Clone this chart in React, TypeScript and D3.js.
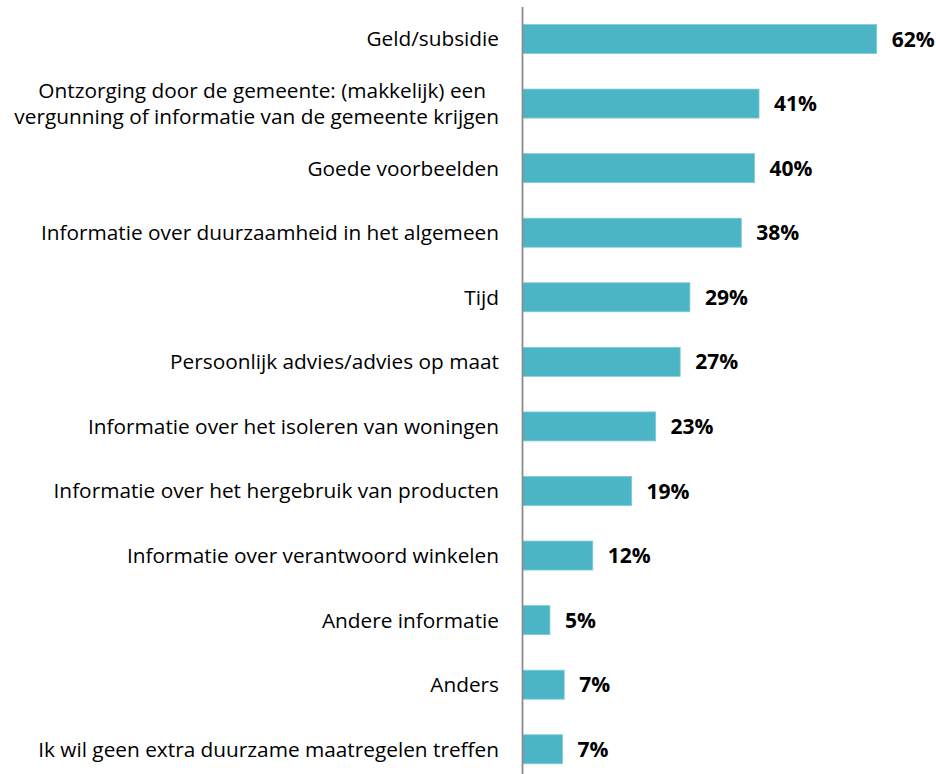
import React from "react";
import * as d3 from "d3";

const categories: string[][] = [
  ["Geld/subsidie"],
  ["Ontzorging door de gemeente: (makkelijk) een", "vergunning of informatie van de gemeente krijgen"],
  ["Goede voorbeelden"],
  ["Informatie over duurzaamheid in het algemeen"],
  ["Tijd"],
  ["Persoonlijk advies/advies op maat"],
  ["Informatie over het isoleren van woningen"],
  ["Informatie over het hergebruik van producten"],
  ["Informatie over verantwoord winkelen"],
  ["Andere informatie"],
  ["Anders"],
  ["Ik wil geen extra duurzame maatregelen treffen"],
];
const values: number[] = [62.0, 41.4, 40.6, 38.3, 29.3, 27.6, 23.3, 19.1, 12.3, 4.8, 7.3, 7.0];
const valueLabels: string[] = ["62%", "41%", "40%", "38%", "29%", "27%", "23%", "19%", "12%", "5%", "7%", "7%"];

const W = 936;
const H = 774;
const FONT = "'Open Sans', 'Noto Sans', sans-serif";
const LABEL_SIZE = 20.8;
const VALUE_SIZE = 21;

export default function App() {
  const keys = categories.map((_, i) => String(i));
  const x = d3.scaleLinear().domain([0, 62]).range([522.5, 876.7]);
  const step = 64.57;
  const y = d3
    .scaleBand<string>()
    .domain(keys)
    .range([39 - step / 2, 39 - step / 2 + step * keys.length])
    .paddingInner(1 - 29 / step)
    .paddingOuter((1 - 29 / step) / 2);

  return (
    <svg
      width={W}
      height={H}
      style={{ position: "absolute", left: 0, top: 0, background: "#fff" }}
    >
      {keys.map((k, i) => {
        const y0 = y(k)!;
        const cy = y0 + y.bandwidth() / 2;
        const lines = categories[i];
        return (
          <g key={k}>
            <rect
              x={x(0)}
              y={y0}
              width={x(values[i]) - x(0)}
              height={y.bandwidth()}
              fill="#4BB5C6"
              stroke="#7FCBD7"
              strokeWidth={0.8}
            />
            <text
              x={x(values[i]) + 15}
              y={cy}
              dy="0.36em"
              fontFamily={FONT}
              fontWeight="bold"
              fontSize={VALUE_SIZE}
              fill="#000"
            >
              {valueLabels[i]}
            </text>
            {lines.length === 1 ? (
              <text
                x={499}
                y={cy}
                dy="0.36em"
                textAnchor="end"
                fontFamily={FONT}
                fontSize={LABEL_SIZE}
                fill="#000"
              >
                {lines[0]}
              </text>
            ) : (
              lines.map((ln, j) => (
                <text
                  key={j}
                  x={j === 0 ? 486 : 499}
                  y={cy + (j - (lines.length - 1) / 2) * 25.5}
                  dy="0.36em"
                  textAnchor="end"
                  fontFamily={FONT}
                  fontSize={LABEL_SIZE}
                  fill="#000"
                >
                  {ln}
                </text>
              ))
            )}
          </g>
        );
      })}
      <line x1={522.5} x2={522.5} y1={7} y2={H} stroke="#8C8C8C" strokeWidth={1.8} />
    </svg>
  );
}
